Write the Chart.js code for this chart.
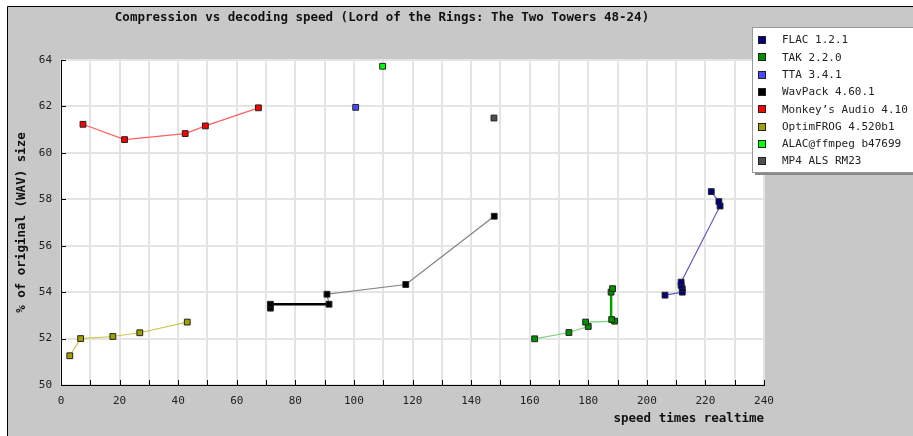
<!DOCTYPE html>
<html>
<head>
<meta charset="utf-8">
<script src="https://cdn.jsdelivr.net/npm/chart.js@4"></script>
<style>
  html,body{margin:0;padding:0;background:#fff;}
  canvas{display:block;}
</style>
</head>
<body>
<canvas id="c" width="913" height="436"></canvas>
<script>
// ---- data ----
const chartTitle = "Compression vs decoding speed (Lord of the Rings: The Two Towers 48-24)";
const xTitle = "speed times realtime";
const yTitle = "% of original (WAV) size";

const seriesNames = ["FLAC 1.2.1","TAK 2.2.0","TTA 3.4.1","WavPack 4.60.1","Monkey\u2019s Audio 4.10","OptimFROG 4.520b1","ALAC@ffmpeg b47699","MP4 ALS RM23"];

const flacSpeed = [206.2, 212.1, 212.1, 211.7, 211.7, 225.0, 224.6, 222.0];
const flacSize  = [53.87, 54.00, 54.15, 54.29, 54.43, 57.71, 57.90, 58.33];

const takSpeed = [161.7, 173.4, 180.0, 179.1, 189.0, 188.0, 187.8, 188.3];
const takSize  = [51.99, 52.26, 52.52, 52.71, 52.75, 52.82, 54.00, 54.15];

const ttaSpeed = [100.6];
const ttaSize  = [61.96];

const wavpackSpeed = [71.5, 71.5, 91.5, 90.8, 117.7, 147.9];
const wavpackSize  = [53.31, 53.48, 53.48, 53.91, 54.33, 57.27];

const monkeySpeed = [7.5, 21.7, 42.4, 49.3, 67.4];
const monkeySize  = [61.23, 60.57, 60.83, 61.16, 61.94];

const optimSpeed = [3.0, 6.7, 17.7, 26.9, 43.1];
const optimSize  = [51.26, 52.00, 52.09, 52.25, 52.71];

const alacSpeed = [109.8];
const alacSize  = [63.73];

const alsSpeed = [147.8];
const alsSize  = [61.50];

// ---- styles ----
const markerColors = ["#000080","#009000","#4848ff","#000000","#ff0000","#a0a000","#00ff00","#505050"];
const lineColors   = ["#6060c8","#80d080","#8080ff","#808080","#ff6060","#c8c850","#80ff80","#909090"];
// segments drawn heavier (index of segment within a series)
const heavySegs = { 3: { idx: [0, 1], color: "#000000" }, 1: { idx: [5, 6], color: "#00a000" } };

const allSpeeds = [flacSpeed, takSpeed, ttaSpeed, wavpackSpeed, monkeySpeed, optimSpeed, alacSpeed, alsSpeed];
const allSizes  = [flacSize, takSize, ttaSize, wavpackSize, monkeySize, optimSize, alacSize, alsSize];

const datasets = seriesNames.map((name, i) => ({
  label: name,
  data: allSpeeds[i].map((x, k) => ({ x: x, y: allSizes[i][k] })),
  showLine: allSpeeds[i].length > 1,
  borderColor: lineColors[i],
  borderWidth: 1.2,
  backgroundColor: markerColors[i],
  pointStyle: 'rect',
  pointRadius: 4.1,
  pointHoverRadius: 4.1,
  pointBorderColor: '#222',
  pointBorderWidth: 1,
  segment: heavySegs[i] ? {
    borderColor: ctx => heavySegs[i].idx.includes(ctx.p0DataIndex) ? heavySegs[i].color : undefined,
    borderWidth: ctx => heavySegs[i].idx.includes(ctx.p0DataIndex) ? 2.5 : undefined
  } : undefined
}));

const MONO = "'DejaVu Sans Mono', monospace";

const framePlugin = {
  id: 'frame',
  beforeDraw(chart) {
    const { ctx, width, height, chartArea: a } = chart;
    ctx.save();
    ctx.fillStyle = '#ffffff';
    ctx.fillRect(0, 0, width, height);
    ctx.fillStyle = '#c8c8c8';
    ctx.fillRect(7, 6, width - 7, height - 6);
    ctx.strokeStyle = '#000';
    ctx.lineWidth = 1;
    ctx.beginPath();
    ctx.moveTo(7.5, height); ctx.lineTo(7.5, 6.5); ctx.lineTo(width, 6.5);
    ctx.stroke();
    ctx.fillStyle = '#ffffff';
    ctx.fillRect(a.left, a.top, a.right - a.left, a.bottom - a.top);
    ctx.restore();
  },
  afterDatasetsDraw(chart) {
    const { ctx, chartArea: a, scales } = chart;
    ctx.save();
    ctx.strokeStyle = '#000';
    ctx.lineWidth = 1;
    ctx.beginPath();
    scales.x.ticks.forEach(t => {
      const px = Math.round(scales.x.getPixelForValue(t.value)) + 0.5;
      ctx.moveTo(px, a.bottom); ctx.lineTo(px, a.bottom - 5);
    });
    scales.y.ticks.forEach(t => {
      const py = Math.round(scales.y.getPixelForValue(t.value)) + 0.5;
      ctx.moveTo(a.left, py); ctx.lineTo(a.left + 5, py);
    });
    ctx.stroke();

    // legend box
    const lx = 752, ly = 27, lw = 170, lh = 145;
    ctx.fillStyle = '#888';
    ctx.fillRect(lx + 3, ly + 3, lw, lh);
    ctx.fillStyle = '#fff';
    ctx.fillRect(lx, ly, lw, lh);
    ctx.strokeStyle = '#999';
    ctx.strokeRect(lx + 0.5, ly + 0.5, lw, lh);
    ctx.font = "11px " + MONO;
    ctx.textBaseline = 'middle';
    ctx.textAlign = 'left';
    chart.data.datasets.forEach((ds, i) => {
      const cy = 40 + i * 17.3;
      ctx.fillStyle = '#222';
      ctx.fillRect(758, Math.round(cy) - 4, 8, 8);
      ctx.fillStyle = markerColors[i];
      ctx.fillRect(759, Math.round(cy) - 3, 6, 6);
      ctx.fillStyle = '#222';
      ctx.fillText(ds.label, 782, cy + 0.5);
    });
    ctx.restore();
  }
};

new Chart(document.getElementById('c'), {
  type: 'scatter',
  data: { datasets },
  options: {
    responsive: false,
    animation: false,
    events: [],
    layout: { padding: { left: 0, right: 149, top: 0, bottom: 0 } },
    plugins: {
      legend: { display: false },
      tooltip: { enabled: false },
      title: {
        display: true,
        text: chartTitle,
        color: '#111',
        font: { family: MONO, size: 12.5, weight: 'bold', lineHeight: 1.2 },
        padding: { top: 10, bottom: 35 }
      }
    },
    scales: {
      x: {
        type: 'linear',
        min: 0, max: 240,
        afterFit(s) { s.height = 51; },
        ticks: {
          stepSize: 10,
          autoSkip: false,
          maxRotation: 0,
          padding: 10,
          color: '#222',
          font: { family: MONO, size: 11 },
          callback: v => (v % 20 === 0 ? String(v) : '')
        },
        grid: { color: '#e4e4e4', drawTicks: false, lineWidth: 2 },
        border: { display: true, color: '#000', width: 1 },
        title: {
          display: true, text: xTitle, align: 'end', color: '#111',
          font: { family: MONO, size: 12.5, weight: 'bold', lineHeight: 1.2 },
          padding: { top: 0, bottom: 9.5 }
        }
      },
      y: {
        type: 'linear',
        min: 50, max: 64,
        afterFit(s) { s.width = 61; },
        ticks: {
          stepSize: 2,
          padding: 9,
          color: '#222',
          font: { family: MONO, size: 11 }
        },
        grid: { color: '#e4e4e4', drawTicks: false, lineWidth: 2 },
        border: { display: true, color: '#000', width: 1 },
        title: {
          display: true, text: yTitle, color: '#111',
          font: { family: MONO, size: 12.5, weight: 'bold', lineHeight: 1.2 },
          padding: { top: 14.5, bottom: 0 }
        }
      }
    }
  },
  plugins: [framePlugin]
});
</script>
</body>
</html>
